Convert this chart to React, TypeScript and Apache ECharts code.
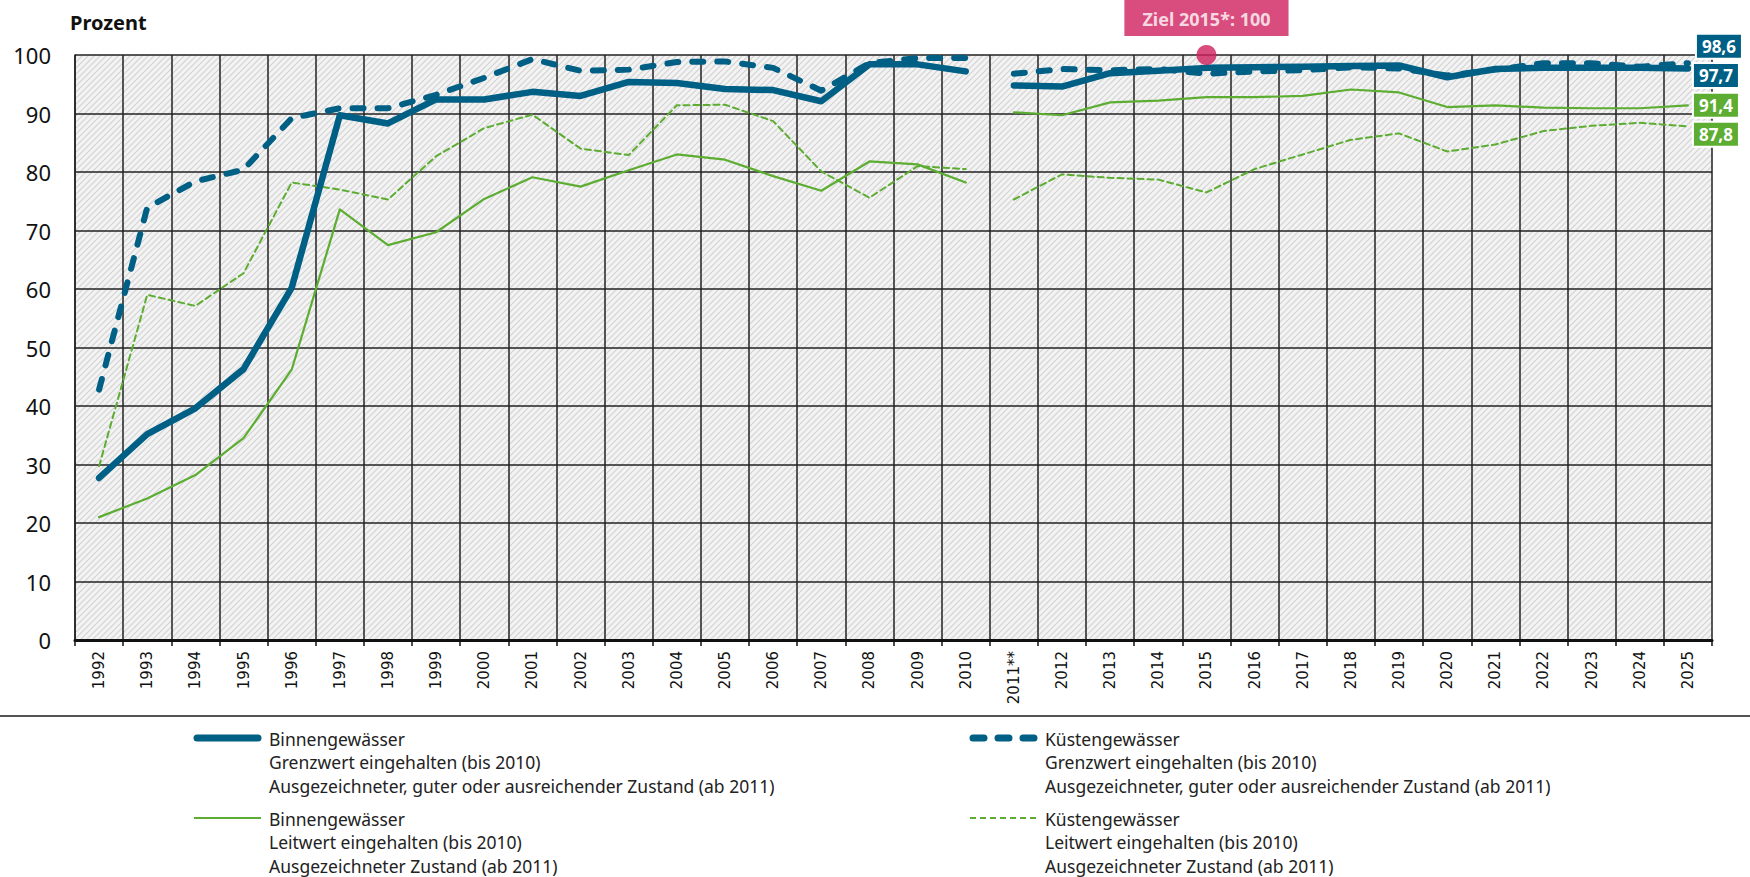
import React, { useEffect, useRef } from 'react';
import * as echarts from 'echarts';

const years = [
  '1992', '1993', '1994', '1995', '1996', '1997', '1998', '1999', '2000', '2001',
  '2002', '2003', '2004', '2005', '2006', '2007', '2008', '2009', '2010',
  '2011**', '2012', '2013', '2014', '2015', '2016', '2017', '2018', '2019', '2020',
  '2021', '2022', '2023', '2024', '2025',
];

const binnenGrenzwert = [
  27.7, 35.2, 39.6, 46.3, 60.2, 89.7, 88.3, 92.4, 92.4, 93.7, 93.0, 95.4, 95.2, 94.2, 94.0, 92.1, 98.4, 98.4, 97.2,
  94.8, 94.6, 96.9, 97.3, 97.8, 97.9, 98.0, 98.1, 98.2, 96.2, 97.6, 97.8, 97.8, 97.8, 97.7,
];
const kuestenGrenzwert = [
  42.8, 73.9, 78.4, 80.4, 89.2, 90.9, 90.9, 93.2, 96.1, 99.3, 97.3, 97.5, 98.8, 98.9, 97.8, 93.9, 98.6, 99.5, 99.5,
  96.8, 97.6, 97.4, 97.6, 96.8, 97.2, 97.4, 97.9, 97.7, 96.5, 97.5, 98.6, 98.6, 98.0, 98.6,
];
const binnenLeitwert = [
  21.0, 24.2, 28.2, 34.5, 46.2, 73.6, 67.5, 69.7, 75.4, 79.1, 77.5, 80.3, 83.0, 82.1, 79.3, 76.8, 81.8, 81.3, 78.2,
  90.2, 89.7, 91.9, 92.2, 92.8, 92.8, 93.0, 94.1, 93.6, 91.1, 91.4, 91.0, 90.9, 90.9, 91.4,
];
const kuestenLeitwert = [
  29.7, 59.0, 57.1, 62.7, 78.2, 77.0, 75.3, 82.7, 87.5, 89.8, 84.0, 82.9, 91.4, 91.5, 88.7, 80.1, 75.6, 81.0, 80.5,
  75.3, 79.6, 79.0, 78.7, 76.5, 80.5, 83.0, 85.5, 86.6, 83.5, 84.7, 87.0, 87.9, 88.4, 87.8,
];

const zielYear = '2015';
const zielValue = 100;
const breakYear = '2011**';

const yTicks = [0, 10, 20, 30, 40, 50, 60, 70, 80, 90, 100];

const BLUE = '#005f85';
const GREEN = '#5cad32';
const PINK = '#cf1f5e';
const FONT = '"Noto Sans", "Open Sans", sans-serif';

const legendNames = [
  'Binnengewässer (Grenzwert)',
  'Küstengewässer (Grenzwert)',
  'Binnengewässer (Leitwert)',
  'Küstengewässer (Leitwert)',
];
const legendLines = [
  ['Binnengewässer', 'Grenzwert eingehalten (bis 2010)', 'Ausgezeichneter, guter oder ausreichender Zustand (ab 2011)'],
  ['Küstengewässer', 'Grenzwert eingehalten (bis 2010)', 'Ausgezeichneter, guter oder ausreichender Zustand (ab 2011)'],
  ['Binnengewässer', 'Leitwert eingehalten (bis 2010)', 'Ausgezeichneter Zustand (ab 2011)'],
  ['Küstengewässer', 'Leitwert eingehalten (bis 2010)', 'Ausgezeichneter Zustand (ab 2011)'],
];

function makeHatch() {
  const c = document.createElement('canvas');
  c.width = 6;
  c.height = 6;
  const ctx = c.getContext('2d')!;
  ctx.fillStyle = '#f3f3f3';
  ctx.fillRect(0, 0, 6, 6);
  ctx.strokeStyle = '#d2d2d2';
  ctx.lineWidth = 1.1;
  ctx.beginPath();
  ctx.moveTo(-1, 7);
  ctx.lineTo(7, -1);
  ctx.moveTo(-4, 4);
  ctx.lineTo(4, -4);
  ctx.moveTo(2, 10);
  ctx.lineTo(10, 2);
  ctx.stroke();
  return c;
}

export default function App() {
  const ref = useRef<HTMLDivElement>(null);

  useEffect(() => {
    if (!ref.current) return;
    const chart = echarts.init(ref.current, undefined, { renderer: 'svg' });
    const breakIndex = years.indexOf(breakYear);

    const styles = [
      { color: BLUE, width: 6.5, dash: 'solid' as any },
      { color: BLUE, width: 6, dash: [11, 14] as any },
      { color: GREEN, width: 2.2, dash: 'solid' as any },
      { color: GREEN, width: 2, dash: [6, 4] as any },
    ];

    const split = (idx: number, values: number[], labelOffset: number[], z: number) => {
      const s = styles[idx];
      const base = {
        type: 'line',
        name: legendNames[idx],
        symbol: 'none',
        z,
        lineStyle: { color: s.color, width: s.width, type: s.dash, cap: 'round', join: 'round' },
        itemStyle: { color: s.color },
      };
      return [
        { ...base, data: values.map((v, i) => (i < breakIndex ? v : null)) },
        {
          ...base,
          data: values.map((v, i) => (i >= breakIndex ? v : null)),
          endLabel: {
            show: true,
            formatter: (p: any) => String(p.value).replace('.', ','),
            color: '#fff',
            fontWeight: 'bold',
            fontFamily: FONT,
            fontSize: 17,
            backgroundColor: s.color,
            borderColor: '#fff',
            borderWidth: 2,
            padding: [4, 5, 2, 5],
            distance: 6,
            offset: labelOffset,
          },
        },
      ];
    };

    const lh = 23.5;
    const legendPos = [
      [193, 738],
      [969, 738],
      [193, 818],
      [969, 818],
    ];
    const legendGraphics: any[] = [];
    legendPos.forEach(([x, y], i) => {
      const s = styles[i];
      const dashed = Array.isArray(s.dash);
      const thick = s.width > 4;
      legendGraphics.push({
        type: 'line',
        shape: { x1: x + (thick ? 4 : 1), y1: y, x2: x + (thick ? 65 : 68), y2: y },
        style: {
          stroke: s.color,
          lineWidth: thick ? 7 : 2.2,
          lineCap: thick ? 'round' : 'butt',
          lineDash: dashed ? s.dash : null,
        },
      });
      legendGraphics.push({
        type: 'text',
        x: x + 76,
        y: y - 11,
        style: {
          text: legendLines[i].join('\n'),
          fontFamily: FONT,
          fontSize: 17.5,
          lineHeight: lh,
          fill: '#222',
          verticalAlign: 'top',
        },
      });
    });

    const option: any = {
      animation: false,
      backgroundColor: '#fff',
      grid: {
        left: 75,
        right: 38,
        top: 55,
        bottom: 237,
        show: true,
        borderWidth: 0,
        backgroundColor: { image: makeHatch(), repeat: 'repeat', imageWidth: 6, imageHeight: 6 },
      },
      graphic: [
        {
          type: 'text',
          left: 70,
          top: 12,
          style: { text: 'Prozent', fontFamily: FONT, fontSize: 20, fontWeight: 'bold', fill: '#111' },
        },
        {
          type: 'line',
          shape: { x1: 0, y1: 716, x2: 1750, y2: 716 },
          style: { stroke: '#555', lineWidth: 2 },
        },
        ...legendGraphics,
      ],
      xAxis: {
        type: 'category',
        data: years,
        boundaryGap: true,
        axisLine: { show: true, lineStyle: { color: '#111', width: 3 } },
        axisTick: { show: true, length: 6, interval: 0, lineStyle: { color: '#111', width: 1.5 } },
        axisLabel: {
          interval: 0,
          rotate: 90,
          margin: 11,
          fontFamily: '"DejaVu Sans", Verdana, sans-serif',
          fontSize: 15,
          color: '#111',
        },
        splitLine: { show: true, interval: 0, lineStyle: { color: '#222', width: 1.5 } },
      },
      yAxis: {
        type: 'value',
        min: yTicks[0],
        max: yTicks[yTicks.length - 1],
        interval: yTicks[1] - yTicks[0],
        axisLine: { show: true, lineStyle: { color: '#222', width: 1.5 } },
        axisTick: { show: false },
        axisLabel: { fontFamily: FONT, fontSize: 22, color: '#111', margin: 24 },
        splitLine: { show: true, lineStyle: { color: '#222', width: 1.5 } },
      },
      series: [
        ...split(3, kuestenLeitwert, [0, 8], 3),
        ...split(2, binnenLeitwert, [0, 0], 4),
        ...split(1, kuestenGrenzwert, [3, -17], 5),
        ...split(0, binnenGrenzwert, [0, 7], 6),
        {
          type: 'scatter',
          name: 'Ziel 2015*',
          z: 7,
          symbolSize: 20,
          itemStyle: { color: PINK },
          data: [[zielYear, zielValue]],
          label: {
            show: true,
            position: 'top',
            distance: 9,
            formatter: (p: any) => `Ziel 2015*: ${p.value[1]}`,
            color: '#fff',
            fontFamily: FONT,
            fontWeight: 'bold',
            fontSize: 18,
            backgroundColor: PINK,
            padding: [11, 18, 8, 18],
          },
        },
      ],
    };

    chart.setOption(option);
    return () => chart.dispose();
  }, []);

  return (
    <div
      ref={ref}
      style={{ position: 'fixed', left: 0, top: 0, width: 1750, height: 877, background: '#fff' }}
    />
  );
}
